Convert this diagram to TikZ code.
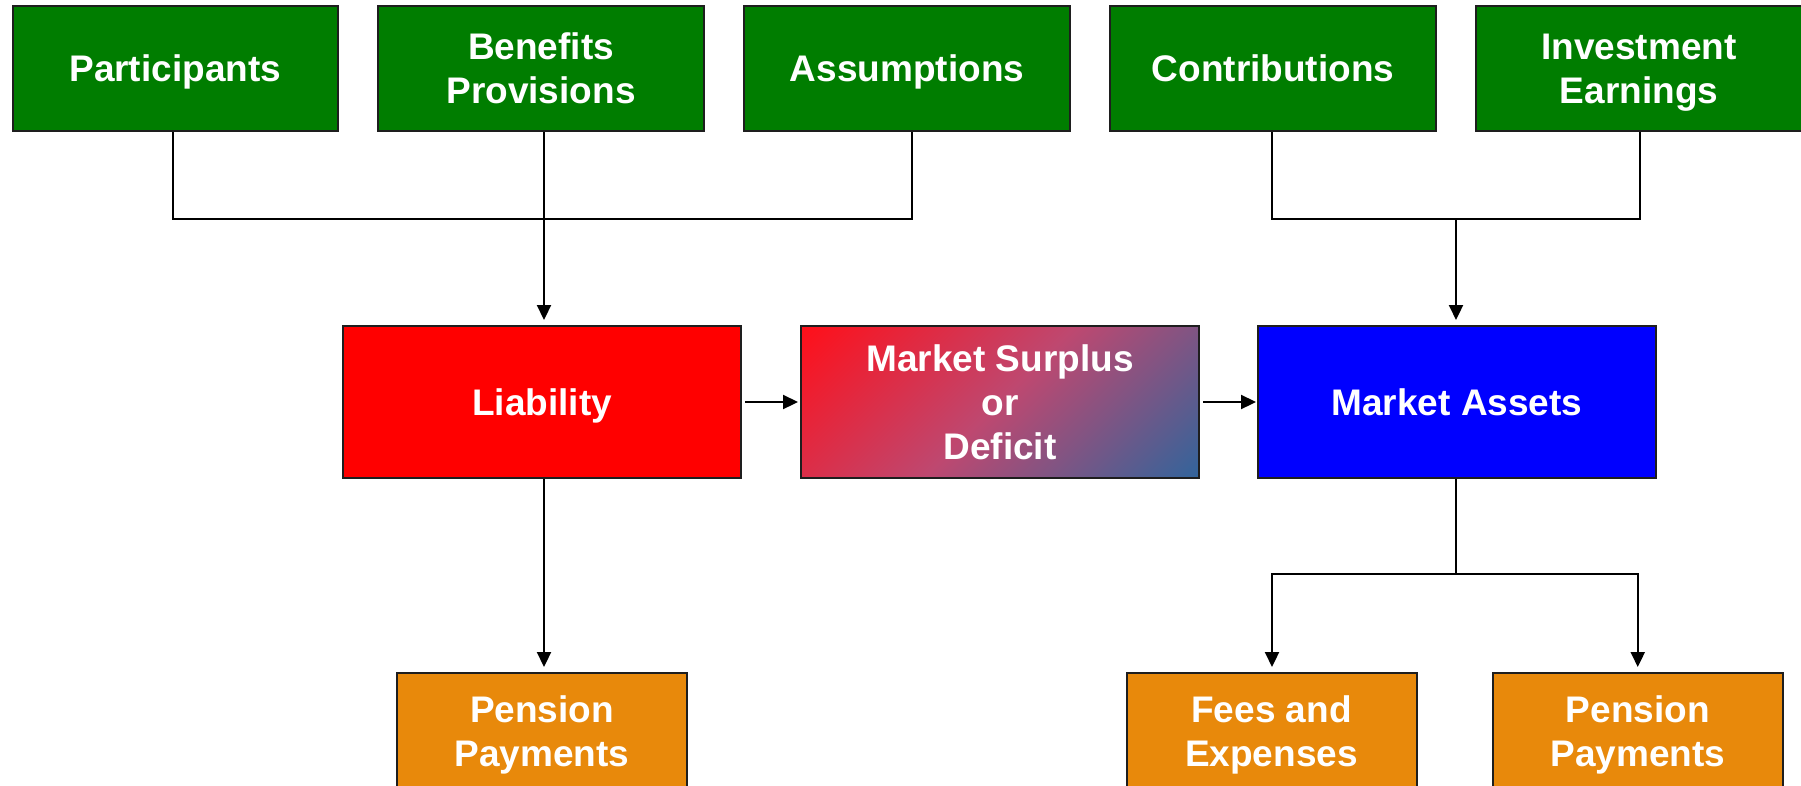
\documentclass[tikz,border=0pt]{standalone}
\usepackage{fontspec}
\setmainfont{Liberation Sans}
\usetikzlibrary{arrows.meta,calc}
\definecolor{boxgreen}{RGB}{0,125,0}
\definecolor{boxorange}{RGB}{232,137,11}
\definecolor{gradA}{RGB}{255,15,25}
\definecolor{gradM}{RGB}{190,72,112}
\definecolor{gradB}{RGB}{50,100,155}
\definecolor{edge}{RGB}{30,30,30}
\pgfdeclareverticalshading{surpshade}{100bp}{color(0bp)=(gradB); color(14.64bp)=(gradB); color(50bp)=(gradM); color(85.36bp)=(gradA); color(100bp)=(gradA)}
\tikzset{
  basebox/.style={draw=edge, line width=2pt, text=white, align=center,
    font=\fontsize{37}{44}\selectfont\bfseries, inner sep=0pt, text depth=0pt},
  topbox/.style={basebox, fill=boxgreen, minimum width=325.5pt, minimum height=125pt},
  midbox/.style={basebox, minimum width=398pt, minimum height=152pt},
  botbox/.style={basebox, fill=boxorange, minimum width=290pt, minimum height=116pt},
  conn/.style={line width=2.2pt, draw=black},
  arr/.style={conn, -{Triangle[length=15pt,width=14pt]}},
}
\begin{document}
\begin{tikzpicture}[x=1pt,y=-1pt]
\useasboundingbox (0,0) rectangle (1801,785);
\clip (0,0) rectangle (1801,785);
\fill[white] (0,0) rectangle (1801,785);

% top row
\node[topbox] (part) at (175.25,68.5) {Participants};
\node[topbox] (bene) at (541,68.5) {Benefits\\Provisions};
\node[topbox] (assu) at (907,68.5) {Assumptions};
\node[topbox] (cont) at (1273,68.5) {Contributions};
\node[topbox] (inve) at (1639,68.5) {Investment\\Earnings};

% middle row
\node[midbox, fill=red] (liab) at (542,402) {Liability};
\node[midbox, shading=surpshade, shading angle=45] (surp) at (1000,402) {Market Surplus\\or\\Deficit};
\node[midbox, fill=blue] (asse) at (1457,402) {Market Assets};

% bottom row
\node[botbox] (pen1) at (542,731) {Pension\\Payments};
\node[botbox] (fees) at (1271.5,731) {Fees and\\Expenses};
\node[botbox] (pen2) at (1637.75,731) {Pension\\Payments};

% buses
\coordinate (busL) at (544,219);
\coordinate (busR) at (1456,219);
\coordinate (busB) at (1456,574);

\draw[conn] ($(part.south)+(-2,0)$) |- (busL) -| ($(assu.south)+(5,0)$);
\draw[arr, shorten >=5pt] ($(bene.south)+(3,0)$) -- ($(liab.north)+(2,0)$);

\draw[conn] ($(cont.south)+(-1,0)$) |- (busR) -| ($(inve.south)+(1,0)$);
\draw[arr, shorten >=5pt] (busR) -- (busR |- asse.north);

\draw[arr, shorten <=3pt, shorten >=2pt] (liab.east) -- (surp.west);
\draw[arr, shorten <=3pt, shorten >=1pt] (surp.east) -- (asse.west);

\draw[arr, shorten >=5pt] ($(liab.south)+(2,0)$) -- ($(pen1.north)+(2,0)$);

\draw[conn] (busB |- asse.south) -- (busB);
\draw[arr, shorten >=5pt] (busB) -| ($(fees.north)+(0.5,0)$);
\draw[arr, shorten >=5pt] (busB) -| (pen2.north);
\end{tikzpicture}
\end{document}
